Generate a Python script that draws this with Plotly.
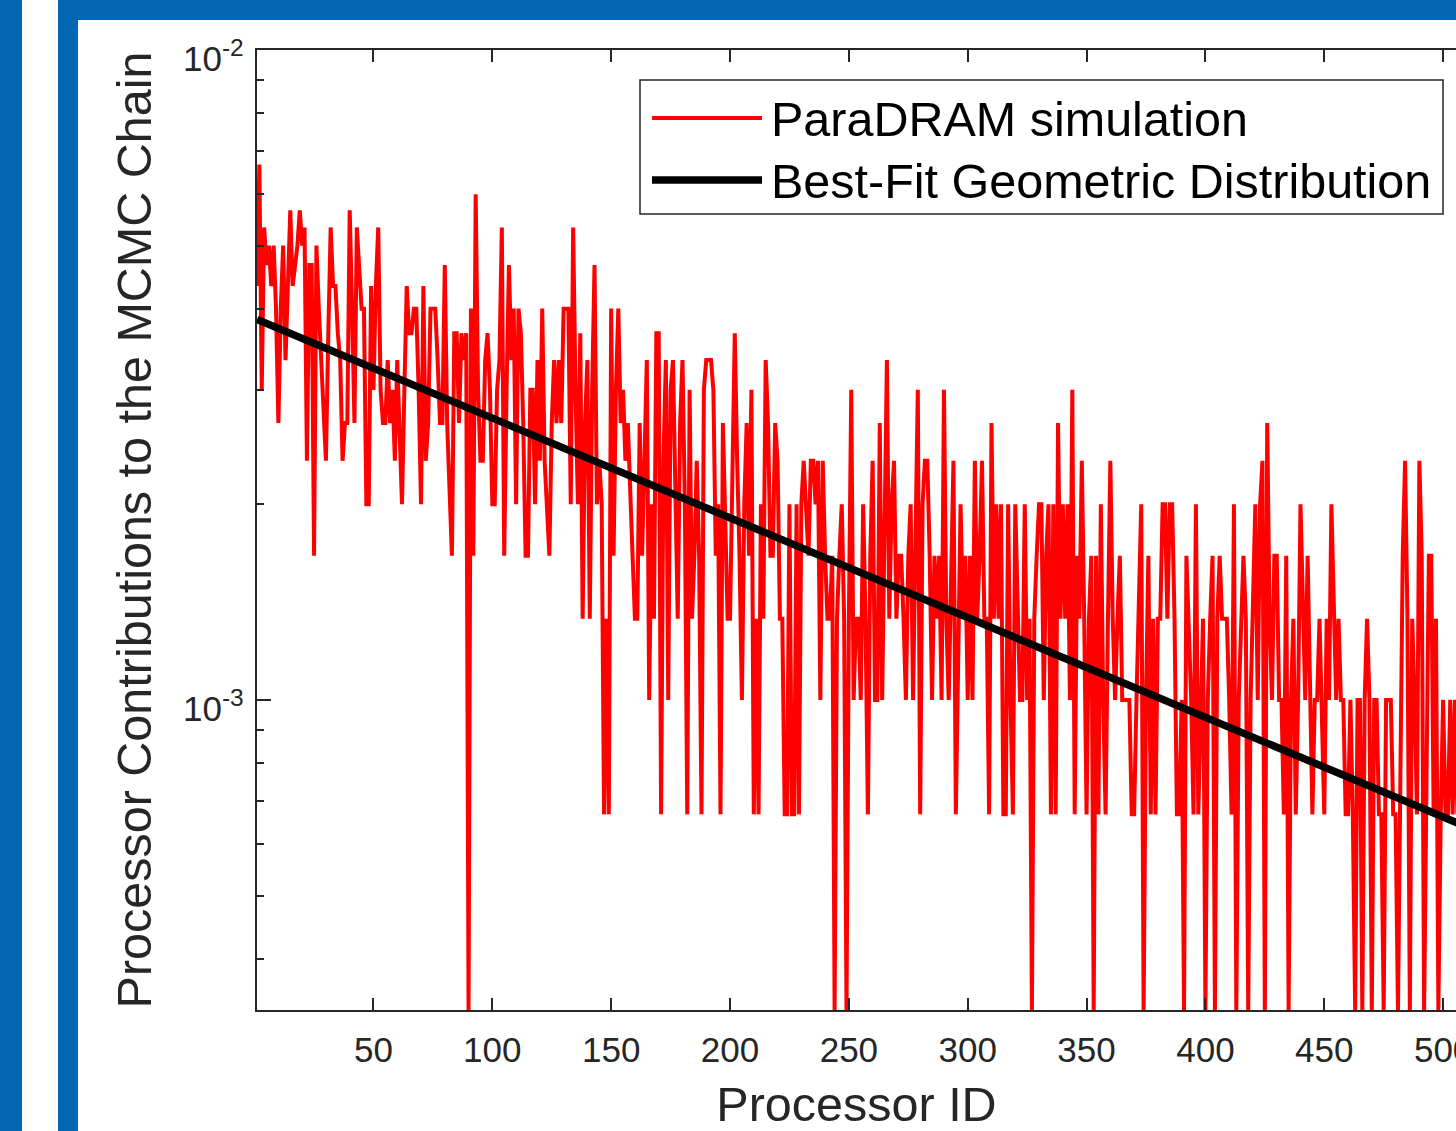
import math
import plotly.graph_objects as go

# ---------------- data ----------------
total_samples = 3000  # contributions are counts / total
counts = [
    13, 20, 9, 16, 14, 15, 13, 15, 12, 8,
    12, 15, 10, 13, 17, 13, 14, 15, 17, 15,
    16, 7, 14, 14, 5, 15, 12, 10, 8, 7,
    11, 16, 13, 13, 11, 10, 7, 8, 8, 17,
    12, 8, 16, 14, 12, 12, 6, 6, 13, 9,
    13, 16, 9, 8, 8, 10, 8, 9, 7, 10,
    8, 6, 9, 13, 11, 11, 12, 12, 9, 6,
    13, 7, 8, 12, 12, 12, 10, 8, 8, 14,
    8, 6, 5, 11, 11, 8, 11, 10, 11, 1,
    12, 5, 18, 9, 7, 7, 10, 11, 9, 6,
    6, 9, 10, 16, 5, 9, 14, 10, 12, 6,
    12, 11, 8, 5, 5, 9, 9, 6, 10, 7,
    12, 7, 6, 5, 8, 10, 8, 10, 8, 12,
    12, 12, 6, 16, 9, 6, 11, 4, 8, 10,
    4, 9, 14, 6, 7, 6, 2, 4, 2, 12,
    5, 9, 12, 8, 9, 7, 8, 6, 5, 4,
    4, 8, 5, 7, 10, 3, 6, 4, 11, 11,
    2, 7, 10, 3, 9, 10, 6, 4, 8, 10,
    6, 2, 9, 4, 5, 7, 5, 2, 9, 10,
    10, 10, 9, 5, 6, 2, 8, 6, 4, 4,
    7, 11, 7, 5, 3, 6, 8, 5, 9, 2,
    4, 2, 6, 4, 10, 8, 5, 5, 8, 7,
    4, 4, 2, 2, 6, 2, 2, 6, 2, 6,
    7, 6, 5, 7, 7, 6, 7, 3, 7, 5,
    4, 4, 5, 1, 4, 5, 6, 4, 1, 4,
    9, 3, 4, 4, 3, 6, 4, 2, 5, 7,
    3, 3, 8, 3, 5, 10, 4, 6, 7, 4,
    5, 5, 4, 3, 5, 6, 3, 5, 9, 2,
    6, 7, 7, 5, 3, 5, 4, 5, 3, 9,
    4, 3, 5, 7, 2, 4, 6, 4, 5, 3,
    5, 3, 7, 4, 5, 7, 4, 4, 2, 8,
    4, 6, 4, 6, 2, 2, 6, 3, 2, 6,
    4, 3, 3, 6, 3, 4, 1, 4, 5, 6,
    6, 3, 5, 6, 2, 6, 2, 8, 4, 6,
    4, 6, 3, 9, 2, 5, 4, 7, 4, 2,
    4, 5, 1, 5, 2, 6, 3, 2, 4, 7,
    4, 3, 4, 5, 3, 3, 3, 3, 2, 2,
    3, 4, 6, 1, 3, 5, 2, 4, 2, 4,
    4, 6, 6, 4, 6, 6, 4, 2, 2, 3,
    1, 5, 4, 3, 2, 6, 2, 3, 4, 1,
    3, 4, 5, 1, 4, 5, 4, 4, 4, 3,
    2, 6, 1, 3, 4, 5, 4, 1, 3, 4,
    6, 3, 6, 7, 1, 8, 4, 3, 5, 5,
    3, 3, 2, 5, 1, 3, 4, 2, 3, 6,
    4, 3, 5, 3, 2, 3, 3, 4, 3, 2,
    4, 3, 6, 4, 3, 4, 3, 3, 2, 2,
    3, 2, 1, 3, 3, 1, 3, 4, 3, 1,
    3, 3, 2, 2, 1, 3, 3, 3, 2, 2,
    1, 2, 5, 7, 4, 1, 4, 3, 2, 7,
    5, 1, 2, 5, 5, 2, 4, 1, 2, 3,
    2, 2, 3, 2, 3, 2, 3, 1, 2, 3, 2, 2,
]
processor_id = list(range(1, len(counts) + 1))
contribution = [c / total_samples for c in counts]

fit_x = [1, 512]
fit_y = [3.85e-3, 6.33e-4]

x_tick_vals = [50, 100, 150, 200, 250, 300, 350, 400, 450, 500]
y_tick_vals = [1e-3, 1e-2]
y_tick_text = ["10<sup>-3</sup>", "10<sup>-2</sup>"]
y_minor_vals = [4e-4, 5e-4, 6e-4, 7e-4, 8e-4, 9e-4,
                2e-3, 3e-3, 4e-3, 5e-3, 6e-3, 7e-3, 8e-3, 9e-3]
y_min = 1 / total_samples
y_max = 1e-2

legend_labels = ["ParaDRAM simulation", "Best-Fit Geometric Distribution"]
x_title = "Processor ID"
y_title = "Processor Contributions to the MCMC Chain"

# ---------------- styling ----------------
FONT = "Liberation Sans, Arial, Helvetica, sans-serif"
AX = "#262626"
BLUE = "#0066B3"
W, H = 1456, 1131
L, R, T, B = 257, 0, 50, 121
PW, PH = W - L - R, H - T - B
TITLE_SIZE = 48.5


def px(X):
    return (X - L) / PW


def py(Y):
    return (H - B - Y) / PH


fig = go.Figure()
fig.add_trace(go.Scatter(x=processor_id, y=contribution, mode="lines",
                         line=dict(color="#FF0000", width=4),
                         name=legend_labels[0], showlegend=False))
fig.add_trace(go.Scatter(x=fit_x, y=fit_y, mode="lines",
                         line=dict(color="#000000", width=7.5),
                         name=legend_labels[1], showlegend=False))

fig.update_layout(
    width=W, height=H,
    margin=dict(l=L, r=R, t=T, b=B, pad=0, autoexpand=False),
    paper_bgcolor="white", plot_bgcolor="white",
    font=dict(family=FONT, color=AX),
    showlegend=False,
    xaxis=dict(
        range=[1, 1 + PW / 2.377],
        automargin=False,
        tickmode="array", tickvals=x_tick_vals,
        ticks="inside", ticklen=12, tickwidth=1.5, tickcolor=AX,
        showline=True, linecolor=AX, linewidth=2, mirror="ticks",
        showgrid=False, zeroline=False,
        tickfont=dict(size=35, color=AX, family=FONT),
        ticklabelstandoff=8,
        ticklabeloverflow="allow",
        title=dict(text=x_title, font=dict(size=TITLE_SIZE, color=AX, family=FONT), standoff=25),
    ),
    yaxis=dict(
        type="log",
        automargin=False,
        range=[math.log10(y_min), math.log10(y_max)],
        tickmode="array", tickvals=y_tick_vals, ticktext=y_tick_text,
        showticklabels=False,
        ticks="inside", ticklen=14, tickwidth=1.5, tickcolor=AX,
        minor=dict(tickmode="array", tickvals=y_minor_vals, ticks="inside",
                   ticklen=7, tickwidth=1.5, tickcolor=AX, showgrid=False),
        showline=True, linecolor=AX, linewidth=2, mirror=False,
        showgrid=False, zeroline=False,
        title=dict(text=y_title, font=dict(size=TITLE_SIZE, color=AX, family=FONT), standoff=88),
    ),
)

# y tick labels (MATLAB places them slightly below the tick)
for val, txt in zip(y_tick_vals, y_tick_text):
    fig.add_annotation(x=px(246), y=math.log10(val), xref="paper", yref="y",
                       text=txt, showarrow=False, xanchor="right", yanchor="middle",
                       yshift=-6, font=dict(size=35, color=AX, family=FONT))

# legend drawn manually to match long line samples
shapes = [
    dict(type="rect", xref="paper", yref="paper",
         x0=px(640), x1=px(1443), y0=py(214), y1=py(80),
         fillcolor="white", line=dict(color=AX, width=1.5)),
    dict(type="line", xref="paper", yref="paper",
         x0=px(652), x1=px(762), y0=py(118), y1=py(118),
         line=dict(color="#FF0000", width=4)),
    dict(type="line", xref="paper", yref="paper",
         x0=px(652), x1=px(762), y0=py(180), y1=py(180),
         line=dict(color="#000000", width=7.5)),
    # blue slide frame
    dict(type="rect", xref="paper", yref="paper",
         x0=px(-5), x1=px(22), y0=py(H + 5), y1=py(-5),
         fillcolor=BLUE, line=dict(width=0)),
    dict(type="rect", xref="paper", yref="paper",
         x0=px(58), x1=px(78), y0=py(H + 5), y1=py(-5),
         fillcolor=BLUE, line=dict(width=0)),
    dict(type="rect", xref="paper", yref="paper",
         x0=px(58), x1=px(W + 5), y0=py(20), y1=py(-5),
         fillcolor=BLUE, line=dict(width=0)),
]
fig.update_layout(shapes=shapes)

for txt, Y in zip(legend_labels, [119, 181]):
    fig.add_annotation(x=px(769), y=py(Y), xref="paper", yref="paper",
                       text=txt, showarrow=False, xanchor="left", yanchor="middle",
                       font=dict(size=TITLE_SIZE, color="#000000", family=FONT))

fig.write_html(
    "out.html",
    config={"displayModeBar": False, "responsive": False},
    post_script="document.body.style.margin='0';document.body.style.overflow='hidden';",
)
